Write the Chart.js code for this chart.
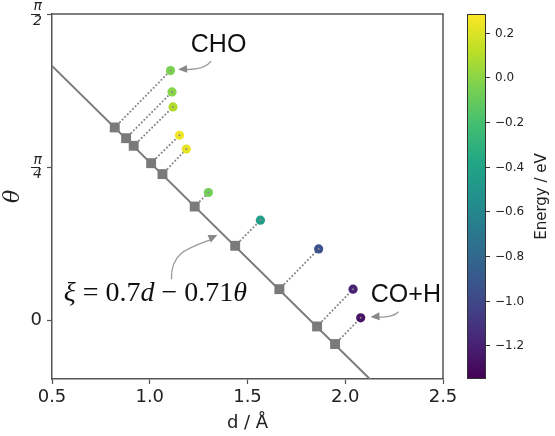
<!DOCTYPE html>
<html>
<head>
<meta charset="utf-8">
<script src="https://cdn.jsdelivr.net/npm/chart.js@4"></script>
<style>
  html, body { margin: 0; padding: 0; background: #fff; }
  #wrap { width: 555px; height: 436px; }
</style>
</head>
<body>
<div id="wrap"><canvas id="xiChart" width="555" height="436"></canvas></div>
<script>
// Structures (circles), coloured by energy
const distCircle  = [1.106, 1.114, 1.119, 1.152, 1.187, 1.300, 1.566, 1.864, 2.040, 2.079];
const thetaCircle = [1.281, 1.172, 1.095, 0.950, 0.879, 0.657, 0.515, 0.368, 0.162, 0.015];
const energy      = [-0.04, -0.01, 0.09, 0.25, 0.23, -0.07, -0.45, -0.94, -1.19, -1.27];

// Projections onto the reaction coordinate line (squares)
const distSquare  = [0.821, 0.879, 0.918, 1.007, 1.065, 1.230, 1.437, 1.663, 1.856, 1.948];
const thetaSquare = [0.990, 0.935, 0.896, 0.807, 0.751, 0.585, 0.384, 0.162, -0.029, -0.119];

// Reaction coordinate line end points
const lineDist  = [0.5, 2.5];
const lineTheta = [1.305, -0.667];

// Axes
const xTicks = [0.5, 1.0, 1.5, 2.0, 2.5];
const thetaTicks = [0, Math.PI / 4, Math.PI / 2];
const thetaTickLabels = ['0', ['π', '4'], ['π', '2']];
const energyTicks = [0.2, 0.0, -0.2, -0.4, -0.6, -0.8, -1.0, -1.2];
const energyRange = [-1.351, 0.284];

// Viridis colormap stops
const viridis = ['#440154', '#482475', '#414487', '#355f8d', '#2a788e', '#21918c',
                 '#22a884', '#44bf70', '#7ad151', '#bddf26', '#fde725'];

const hexToRgb = h => [1, 3, 5].map(i => parseInt(h.substr(i, 2), 16));
const viridisColor = t => {
    t = Math.max(0, Math.min(1, t));
    const p = t * (viridis.length - 1);
    const i = Math.min(Math.floor(p), viridis.length - 2);
    const f = p - i;
    const a = hexToRgb(viridis[i]), b = hexToRgb(viridis[i + 1]);
    const c = a.map((v, k) => Math.round(v + (b[k] - v) * f));
    return `rgb(${c[0]},${c[1]},${c[2]})`;
};
const energyColor = e => viridisColor((e - energyRange[0]) / (energyRange[1] - energyRange[0]));

// Annotations, in data coordinates
const annotations = [
    { text: 'CHO', at: [1.352, 1.411], path: [[1.314, 1.329], [1.280, 1.283], [1.145, 1.287]] },
    { text: 'CO+H', at: [2.310, 0.132], path: [[2.273, 0.046], [2.241, 0.014], [2.129, 0.020]] }
];
const xiArrow = [[1.111, 0.213], [1.106, 0.352], [1.198, 0.372], [1.346, 0.439]];
const xiLabelAt = [0.560, 0.137];

const GRAY = '#7a7a7a';
const AXIS = '#555555';

// Connector datasets (square -> circle)
const connectors = distCircle.map((d, i) => ({
    type: 'line',
    data: [{ x: distSquare[i], y: thetaSquare[i] }, { x: d, y: thetaCircle[i] }],
    borderColor: '#858585',
    borderWidth: 2,
    borderDash: [0.1, 3.6],
    borderCapStyle: 'round',
    pointRadius: 0,
    order: 4
}));

const drawArrowHead = (ctx, tip, from, len, half) => {
    const ang = Math.atan2(tip[1] - from[1], tip[0] - from[0]);
    ctx.beginPath();
    ctx.moveTo(tip[0], tip[1]);
    ctx.lineTo(tip[0] - len * Math.cos(ang) + half * Math.sin(ang), tip[1] - len * Math.sin(ang) - half * Math.cos(ang));
    ctx.lineTo(tip[0] - len * Math.cos(ang) - half * Math.sin(ang), tip[1] - len * Math.sin(ang) + half * Math.cos(ang));
    ctx.closePath();
    ctx.fill();
};

const extrasPlugin = {
    id: 'extras',
    afterDraw(chart) {
        const { ctx, chartArea: a, scales: { x, y } } = chart;
        const px = p => [x.getPixelForValue(p[0]), y.getPixelForValue(p[1])];
        ctx.save();

        // top and right spines
        ctx.strokeStyle = AXIS;
        ctx.lineWidth = 1.5;
        ctx.beginPath();
        ctx.moveTo(a.left, a.top);
        ctx.lineTo(a.right, a.top);
        ctx.lineTo(a.right, a.bottom);
        ctx.stroke();

        // fraction bars for the pi ticks
        ctx.strokeStyle = '#222';
        ctx.lineWidth = 1;
        thetaTicks.forEach(t => {
            if (t === 0) return;
            const yy = Math.round(y.getPixelForValue(t)) + 0.5;
            ctx.beginPath();
            ctx.moveTo(31, yy);
            ctx.lineTo(40, yy);
            ctx.stroke();
        });

        // annotations with curved arrows
        ctx.font = '25px "Liberation Sans", Arial, sans-serif';
        ctx.textAlign = 'center';
        ctx.textBaseline = 'middle';
        annotations.forEach(an => {
            const p = px(an.at);
            ctx.fillStyle = '#111';
            ctx.fillText(an.text, p[0], p[1]);
            const [s, c, e] = an.path.map(px);
            ctx.strokeStyle = '#999';
            ctx.lineWidth = 1.3;
            ctx.beginPath();
            ctx.moveTo(s[0], s[1]);
            ctx.quadraticCurveTo(c[0], c[1], e[0] + 7, e[1]);
            ctx.stroke();
            ctx.fillStyle = '#888';
            drawArrowHead(ctx, e, [e[0] + 8, e[1] - 0.5], 9, 4);
        });

        // xi arrow
        const [s, c1, c2, e] = xiArrow.map(px);
        ctx.strokeStyle = '#999';
        ctx.lineWidth = 1.3;
        ctx.beginPath();
        ctx.moveTo(s[0], s[1]);
        ctx.bezierCurveTo(c1[0], c1[1], c2[0], c2[1], e[0] - 5, e[1] + 4);
        ctx.stroke();
        ctx.fillStyle = '#888';
        drawArrowHead(ctx, e, c2, 9, 4);

        // xi equation, mixed italic / upright
        const parts = [['ξ', true], [' = 0.7', false], ['d', true], [' − 0.71', false], ['θ', true]];
        let lx = x.getPixelForValue(xiLabelAt[0]);
        const ly = y.getPixelForValue(xiLabelAt[1]);
        ctx.fillStyle = '#111';
        ctx.textAlign = 'left';
        ctx.textBaseline = 'middle';
        parts.forEach(([t, it]) => {
            ctx.font = (it ? 'italic ' : '') + '28px "Liberation Serif", "DejaVu Serif", serif';
            ctx.fillText(t, lx, ly);
            lx += ctx.measureText(t).width;
        });

        // colorbar
        const cb = { left: 467, right: 486, top: a.top, bottom: a.bottom };
        const grad = ctx.createLinearGradient(0, cb.top, 0, cb.bottom);
        viridis.forEach((col, i) => grad.addColorStop(1 - i / (viridis.length - 1), col));
        ctx.fillStyle = grad;
        ctx.fillRect(cb.left, cb.top, cb.right - cb.left, cb.bottom - cb.top);
        ctx.strokeStyle = '#333';
        ctx.lineWidth = 1;
        ctx.strokeRect(cb.left + 0.5, cb.top + 0.5, cb.right - cb.left - 1, cb.bottom - cb.top - 1);
        const ePix = v => cb.top + (energyRange[1] - v) / (energyRange[1] - energyRange[0]) * (cb.bottom - cb.top);
        ctx.font = '12px "DejaVu Sans", sans-serif';
        ctx.fillStyle = '#222';
        ctx.textAlign = 'left';
        ctx.textBaseline = 'middle';
        energyTicks.forEach(v => {
            const yy = Math.round(ePix(v)) + 0.5;
            ctx.beginPath();
            ctx.moveTo(cb.right, yy);
            ctx.lineTo(cb.right + 4, yy);
            ctx.stroke();
            ctx.fillText(v.toFixed(1).replace('-', '−'), cb.right + 9, yy);
        });
        ctx.save();
        ctx.translate(542, (cb.top + cb.bottom) / 2);
        ctx.rotate(-Math.PI / 2);
        ctx.textAlign = 'center';
        ctx.font = '15px "DejaVu Sans", sans-serif';
        ctx.fillText('Energy / eV', 0, 0);
        ctx.restore();

        ctx.restore();
    }
};

const initializeChart = () => {
    const ctx = document.getElementById('xiChart').getContext('2d');
    new Chart(ctx, {
        type: 'scatter',
        data: {
            datasets: [
                {
                    // tiny grey dot where the connector ends
                    data: distCircle.map((d, i) => ({ x: d, y: thetaCircle[i] })),
                    pointRadius: 1,
                    backgroundColor: '#8a8a8a',
                    borderWidth: 0,
                    order: 0
                },
                {
                    data: distCircle.map((d, i) => ({ x: d, y: thetaCircle[i] })),
                    pointRadius: 4.6,
                    backgroundColor: energy.map(energyColor),
                    borderWidth: 0,
                    order: 1
                },
                {
                    data: distSquare.map((d, i) => ({ x: d, y: thetaSquare[i] })),
                    pointStyle: 'rect',
                    pointRadius: 7,
                    backgroundColor: GRAY,
                    borderWidth: 0,
                    order: 2
                },
                ...connectors,
                {
                    type: 'line',
                    data: lineDist.map((d, i) => ({ x: d, y: lineTheta[i] })),
                    borderColor: GRAY,
                    borderWidth: 2,
                    pointRadius: 0,
                    order: 5
                }
            ]
        },
        options: {
            responsive: false,
            animation: false,
            layout: { padding: { top: 14, right: 112, left: 0, bottom: 0 } },
            plugins: {
                legend: { display: false },
                tooltip: { enabled: false }
            },
            scales: {
                x: {
                    type: 'linear',
                    min: 0.5,
                    max: 2.5,
                    afterFit: s => { s.height = 57; s.paddingLeft = 0; s.paddingRight = 0; },
                    afterBuildTicks: s => { s.ticks = xTicks.map(v => ({ value: v })); },
                    grid: { drawOnChartArea: false, tickLength: 5, color: AXIS, tickWidth: 1.2 },
                    border: { display: true, color: AXIS, width: 1.5 },
                    ticks: {
                        padding: 3,
                        color: '#222',
                        font: { family: 'DejaVu Sans', size: 18 },
                        callback: v => v.toFixed(1)
                    },
                    title: {
                        display: true,
                        text: 'd / Å',
                        color: '#222',
                        font: { family: 'DejaVu Sans', size: 18 },
                        padding: { top: 0, bottom: 2 }
                    }
                },
                y: {
                    type: 'linear',
                    min: -0.298,
                    max: Math.PI / 2,
                    afterFit: s => { s.width = 52; s.paddingTop = 0; s.paddingBottom = 0; },
                    afterBuildTicks: s => { s.ticks = thetaTicks.map(v => ({ value: v })); },
                    grid: { drawOnChartArea: false, tickLength: 5, color: AXIS, tickWidth: 1.2 },
                    border: { display: true, color: AXIS, width: 1.5 },
                    ticks: {
                        padding: 5,
                        color: '#222',
                        font: c => (c.index === 0
                            ? { family: 'DejaVu Sans', size: 18 }
                            : { family: 'DejaVu Sans', size: 14, style: 'italic', lineHeight: 1.05 }),
                        callback: (v, i) => thetaTickLabels[i]
                    },
                    title: {
                        display: true,
                        text: 'θ',
                        color: '#222',
                        font: { family: 'DejaVu Serif', size: 22, style: 'italic' },
                        padding: { top: 0, bottom: 0 }
                    }
                }
            }
        },
        plugins: [extrasPlugin]
    });
};

document.addEventListener('DOMContentLoaded', initializeChart);
</script>
</body>
</html>
